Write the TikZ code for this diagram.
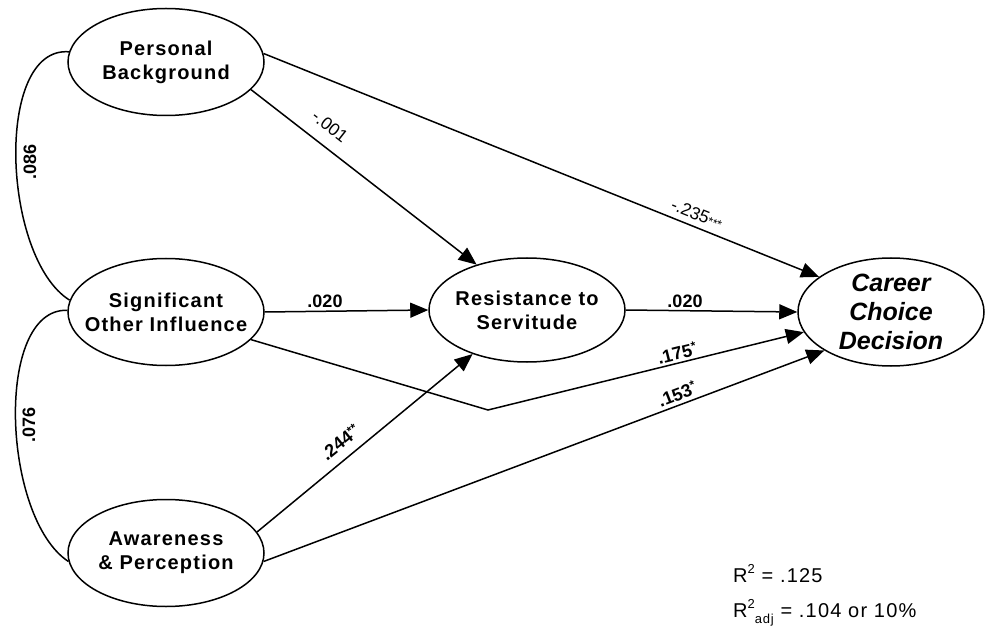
\documentclass[tikz,border=0pt]{standalone}
\usepackage{fontspec}
\usepackage{tikz}
\setmainfont{Liberation Sans}
\newfontfamily\spacedfont[LetterSpace=6]{Liberation Sans}
\usetikzlibrary{shapes.geometric,arrows.meta}
\newcommand{\sigstar}[1]{\raisebox{0.3em}{\fontsize{12}{12}\selectfont #1}}

\begin{document}
\begin{tikzpicture}[x=1pt,y=-1pt,
  latent/.style={draw, ellipse, line width=1.5pt, minimum width=196pt,
    minimum height=107pt, inner xsep=-30pt, inner ysep=-20pt, align=center,
    font=\spacedfont\fontsize{20}{24}\selectfont\bfseries},
  effect/.style={line width=1.5pt, -{Triangle[length=18pt,width=15pt]}},
  link/.style={line width=1.5pt},
  coef/.style={inner sep=1pt, font=\fontsize{18}{20}\selectfont\bfseries},
  plaincoef/.style={inner sep=1pt, font=\fontsize{17.5}{20}\selectfont}
]
\useasboundingbox (0,0) rectangle (985,628);

% latent variables
\node[latent] (pb) at (166,62) {Personal\\Background};
\node[latent] (soi) at (166,312) {Significant\\Other Influence};
\node[latent] (ap) at (166,553) {Awareness\\\& Perception};
\node[latent, minimum height=104pt] (rs) at (527,310) {Resistance to\\Servitude};
\node[latent, minimum width=186pt, minimum height=108pt,
  font=\fontsize{25}{29}\selectfont\bfseries\itshape] (ccd) at (891,312)
  {Career\\Choice\\Decision};

% correlations
\draw[link] (pb.174) .. controls (-6,46) and (2,258) .. (soi.173);
\draw[link] (soi.179) .. controls (-6,308) and (2,518) .. (ap.185);
\node[coef, rotate=90] (r1) at (30,162) {.086};
\node[coef, rotate=90] (r2) at (29,425) {.076};

% paths
\coordinate (bend) at (488,410);
\draw[effect] (pb.-18) -- (rs.138);
\draw[effect] (pb.5) -- (ccd.154);
\draw[effect] (soi.east) -- (rs.west);
\draw[effect] (rs.east) -- (ccd.west);
\draw[effect] (soi.-18) -- (bend) -- (ccd.193);
\draw[effect] (ap.13) -- (rs.219);
\draw[effect] (ap.-5) -- (ccd.210);

% coefficients
\node[plaincoef, rotate=-38] (c1) at (330,126) {-.001};
\node[plaincoef, rotate=-22] (c2) at (697,214) {-.235{\fontsize{12}{12}\selectfont ***}};
\node[coef] (c3) at (325,301) {.020};
\node[coef] (c4) at (685,301) {.020};
\node[coef, rotate=14] (c5) at (677,353) {.175\sigstar{*}};
\node[coef, rotate=21] (c6) at (677,394) {.153\sigstar{*}};
\node[coef, rotate=39] (c7) at (340,442) {.244\sigstar{**}};

% fit
\node[anchor=base west, inner sep=0pt, font=\spacedfont\fontsize{20}{22}\selectfont]
  (rsq) at (733,582) {R\raisebox{0.45em}{\fontsize{13}{13}\selectfont 2} = .125};
\node[anchor=base west, inner sep=0pt, font=\spacedfont\fontsize{20}{22}\selectfont]
  (radj) at (733,617) {R\raisebox{0.45em}{\fontsize{13}{13}\selectfont 2}\raisebox{-0.3em}{\fontsize{13}{13}\selectfont adj} = .104 or 10\%};
\end{tikzpicture}
\end{document}
